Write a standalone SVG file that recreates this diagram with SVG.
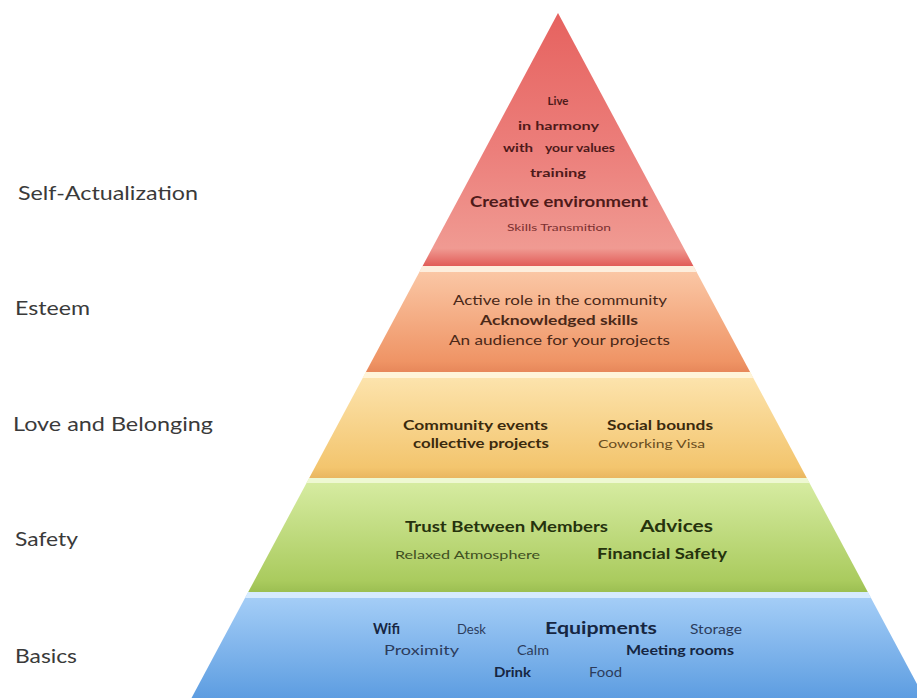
<svg xmlns="http://www.w3.org/2000/svg" width="917" height="698" viewBox="0 0 917 698">
<defs>
<linearGradient id="gRed" x1="0" y1="0" x2="0" y2="1">
<stop offset="0" stop-color="#e6625f"/><stop offset="0.55" stop-color="#ec7f7b"/><stop offset="0.93" stop-color="#f09a92"/><stop offset="1" stop-color="#e15c58"/>
</linearGradient>
<linearGradient id="gOrange" x1="0" y1="0" x2="0" y2="1">
<stop offset="0" stop-color="#fbcaa9"/><stop offset="0.9" stop-color="#ef9465"/><stop offset="1" stop-color="#e7875a"/>
</linearGradient>
<linearGradient id="gYellow" x1="0" y1="0" x2="0" y2="1">
<stop offset="0" stop-color="#fde5b0"/><stop offset="0.9" stop-color="#f3c56e"/><stop offset="1" stop-color="#e9b660"/>
</linearGradient>
<linearGradient id="gGreen" x1="0" y1="0" x2="0" y2="1">
<stop offset="0" stop-color="#d8eda4"/><stop offset="0.9" stop-color="#aacb5e"/><stop offset="1" stop-color="#9cbf52"/>
</linearGradient>
<linearGradient id="gBlue" x1="0" y1="0" x2="0" y2="1">
<stop offset="0" stop-color="#a8d0f8"/><stop offset="1" stop-color="#5d9de1"/>
</linearGradient>
</defs>
<style>
text{font-family:Lato,"Open Sans","Liberation Sans",sans-serif}
.lbl{font-size:19px;fill:#3a3a3a}
.b{font-weight:bold}
.red{fill:#4e1a1a}
.redl{fill:#7a3030}
.org{fill:#4a2818}
.yel{fill:#3b2a0e}
.yell{fill:#6a4d1e}
.grn{fill:#26330d}
.grnl{fill:#3f4f22}
.blu{fill:#162642}
.blul{fill:#2c3c5c}
.c{text-anchor:middle}
</style>
<rect width="917" height="698" fill="#ffffff"/>

<g id="labels">
<text class="lbl" x="18" y="200" textLength="180" lengthAdjust="spacingAndGlyphs">Self-Actualization</text>
<text class="lbl" x="15" y="315" textLength="75" lengthAdjust="spacingAndGlyphs">Esteem</text>
<text class="lbl" x="13" y="431" textLength="200" lengthAdjust="spacingAndGlyphs">Love and Belonging</text>
<text class="lbl" x="15" y="546" textLength="63" lengthAdjust="spacingAndGlyphs">Safety</text>
<text class="lbl" x="15" y="663" textLength="62" lengthAdjust="spacingAndGlyphs">Basics</text>
</g>

<g id="self-actualization">
<polygon points="558,13 693.4,266 422.6,266" fill="url(#gRed)"/>
<text class="red b c" x="558" y="105" font-size="11.5">Live</text>
<text class="red b" x="518" y="130" font-size="11.5" textLength="81" lengthAdjust="spacingAndGlyphs">in harmony</text>
<text class="red b" x="503" y="152" font-size="11.5" textLength="30" lengthAdjust="spacingAndGlyphs">with</text>
<text class="red b" x="545" y="152" font-size="11.5" textLength="70" lengthAdjust="spacingAndGlyphs">your values</text>
<text class="red b" x="530" y="177" font-size="11.5" textLength="56" lengthAdjust="spacingAndGlyphs">training</text>
<text class="red b" x="470" y="207" font-size="15" textLength="178" lengthAdjust="spacingAndGlyphs">Creative environment</text>
<text class="redl" x="507" y="231" font-size="10" textLength="104" lengthAdjust="spacingAndGlyphs">Skills Transmition</text>
</g>

<g id="esteem">
<polygon points="422.6,266 693.4,266 750.1,372 365.9,372" fill="url(#gOrange)"/>
<polygon points="422.6,266 693.4,266 696.6,272 419.4,272" fill="#fdeedd"/>
<text class="org" x="453" y="305" font-size="13" textLength="214" lengthAdjust="spacingAndGlyphs">Active role in the community</text>
<text class="org b" x="480" y="325" font-size="13" textLength="158" lengthAdjust="spacingAndGlyphs">Acknowledged skills</text>
<text class="org" x="449" y="345" font-size="13" textLength="221" lengthAdjust="spacingAndGlyphs">An audience for your projects</text>
</g>

<g id="love-belonging">
<polygon points="365.9,372 750.1,372 806.8,478 309.2,478" fill="url(#gYellow)"/>
<polygon points="365.9,372 750.1,372 753.3,378 362.7,378" fill="#fff4d9"/>
<text class="yel b" x="403" y="430" font-size="13" textLength="145" lengthAdjust="spacingAndGlyphs">Community events</text>
<text class="yel b" x="413" y="448" font-size="13" textLength="136" lengthAdjust="spacingAndGlyphs">collective projects</text>
<text class="yel b" x="607" y="430" font-size="13" textLength="106" lengthAdjust="spacingAndGlyphs">Social bounds</text>
<text class="yell" x="598" y="448" font-size="12" textLength="107" lengthAdjust="spacingAndGlyphs">Coworking Visa</text>
</g>

<g id="safety">
<polygon points="309.2,478 806.8,478 867.8,592 248.2,592" fill="url(#gGreen)"/>
<polygon points="309.2,478 806.8,478 809.5,483 306.5,483" fill="#eef8d2"/>
<text class="grn b" x="405" y="532" font-size="15" textLength="203" lengthAdjust="spacingAndGlyphs">Trust Between Members</text>
<text class="grn b" x="640" y="532" font-size="17" textLength="73" lengthAdjust="spacingAndGlyphs">Advices</text>
<text class="grnl" x="395" y="559" font-size="12" textLength="145" lengthAdjust="spacingAndGlyphs">Relaxed Atmosphere</text>
<text class="grn b" x="597" y="559" font-size="15" textLength="130" lengthAdjust="spacingAndGlyphs">Financial Safety</text>
</g>

<g id="basics">
<polygon points="248.2,592 867.8,592 924.5,698 191.5,698" fill="url(#gBlue)"/>
<polygon points="248.2,592 867.8,592 871,598 245,598" fill="#d6ebff"/>
<text class="blu b" x="373" y="634" font-size="15" textLength="27" lengthAdjust="spacingAndGlyphs">Wifi</text>
<text class="blul" x="457" y="634" font-size="13" textLength="29" lengthAdjust="spacingAndGlyphs">Desk</text>
<text class="blu b" x="545" y="634" font-size="17" textLength="112" lengthAdjust="spacingAndGlyphs">Equipments</text>
<text class="blul" x="690" y="634" font-size="13" textLength="52" lengthAdjust="spacingAndGlyphs">Storage</text>
<text class="blul" x="384" y="655" font-size="14" textLength="75" lengthAdjust="spacingAndGlyphs">Proximity</text>
<text class="blul" x="517" y="655" font-size="13" textLength="32" lengthAdjust="spacingAndGlyphs">Calm</text>
<text class="blu b" x="626" y="655" font-size="13" textLength="108" lengthAdjust="spacingAndGlyphs">Meeting rooms</text>
<text class="blu b" x="494" y="677" font-size="13" textLength="37" lengthAdjust="spacingAndGlyphs">Drink</text>
<text class="blul" x="589" y="677" font-size="13" textLength="33" lengthAdjust="spacingAndGlyphs">Food</text>
</g>
</svg>
